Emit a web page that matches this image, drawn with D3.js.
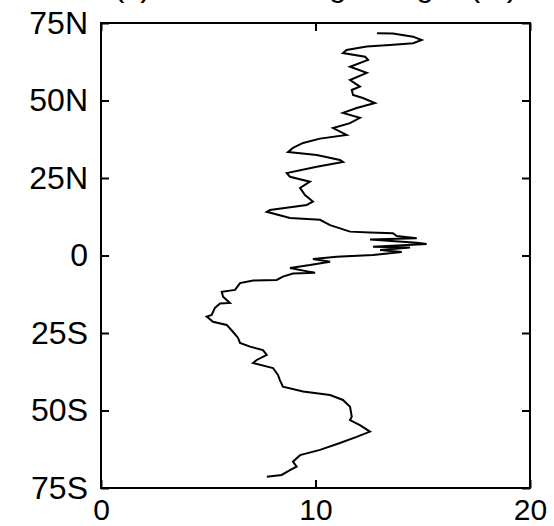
<!DOCTYPE html>
<html>
<head>
<meta charset="utf-8">
<script src="https://d3js.org/d3.v7.min.js"></script>
<style>
  body { margin: 0; background: #fff; }
  svg { display: block; }
  text { font-family: "Liberation Sans", Arial, sans-serif; fill: #000; }
</style>
</head>
<body>
<div id="chart"></div>
<script>
// zonal profile (value, latitude)
const lat = [71.7, 71.6, 70.6, 69.5, 68.5, 67.9, 67.4, 66.3, 65.3, 64.1, 63.1, 60.9, 58.9, 56.6, 54.5, 53.4,
    51.8, 50.8, 49.2, 47.6, 46.0, 44.4, 42.7, 41.1, 38.9, 37.7, 36.3, 34.7, 33.4, 32.4, 30.8, 30.2, 28.6,
    26.6, 25.4, 23.8, 21.8, 19.5, 17.4, 16.3, 14.7, 14.1, 12.1, 11.5, 9.8, 7.7, 7.4, 7.2, 6.3, 5.6, 5.2,
    4.1, 3.7, 2.8, 2.6, 1.8, 1.1, 0.2, -0.4, -1.1, -2.0, -3.1, -4.0, -5.6, -5.8, -6.8, -7.9, -8.1, -8.9,
    -11.1, -11.7, -13.3, -15.3, -15.5, -16.9, -19.2, -19.7, -21.4, -22.4, -24.6, -26.6, -28.2, -29.4,
    -30.5, -32.1, -33.7, -34.7, -36.3, -38.5, -40.2, -42.3, -43.9, -45.0, -46.6, -48.8, -52.0, -53.1,
    -54.7, -56.8, -58.5, -60.5, -62.7, -64.4, -66.5, -68.1, -69.2, -70.8, -71.4];
const val = [12.87, 13.61, 14.55, 14.95, 14.55, 13.47, 12.39, 11.45, 11.28, 12.31, 12.45, 11.61, 12.39, 11.61,
    12.07, 11.69, 11.75, 12.21, 12.77, 11.92, 11.28, 12.07, 11.61, 10.82, 11.45, 10.21, 9.42, 8.95, 8.72,
    10.06, 11.14, 11.28, 10.06, 8.66, 8.81, 9.74, 9.28, 9.51, 9.88, 9.59, 7.88, 7.73, 8.81, 10.21, 10.68,
    11.61, 12.54, 13.61, 13.79, 14.72, 12.54, 14.72, 15.18, 12.68, 14.41, 13.01, 14.02, 12.68, 10.99, 9.88,
    10.68, 9.74, 8.81, 9.98, 8.95, 8.48, 8.19, 7.09, 6.48, 6.25, 5.63, 5.69, 6.01, 5.55, 5.31, 5.16, 4.93,
    5.22, 5.86, 6.15, 6.39, 6.48, 6.95, 7.55, 7.73, 7.26, 7.09, 8.02, 8.25, 8.34, 8.48, 9.42, 10.68, 11.28,
    11.61, 11.69, 11.61, 12.07, 12.54, 11.92, 11.14, 10.21, 9.28, 8.95, 9.12, 8.81, 8.42, 7.73];

const latTicks = [75, 50, 25, 0, -25, -50, -75];
const latLabels = ["75N", "50N", "25N", "0", "25S", "50S", "75S"];
const valTicks = [0, 10, 20];
const title = "(c) Zonal average height (m)";

var width = 554, height = 526;
var margin = {top: 23, right: 24, bottom: 38, left: 101};

var svg = d3.select("#chart").append("svg")
    .attr("width", width)
    .attr("height", height);

var x = d3.scaleLinear().domain([0, 20]).range([margin.left, width - margin.right]);
var y = d3.scaleLinear().domain([-75, 75]).range([height - margin.bottom, margin.top]);

// axes, ticks pointing inward
svg.append("g")
    .attr("transform", "translate(" + margin.left + ",0)")
    .call(d3.axisLeft(y).tickValues(latTicks).tickSize(-8).tickPadding(13)
        .tickFormat((d, i) => latLabels[i]))
    .selectAll(".tick text").attr("font-size", 32);
svg.append("g")
    .attr("transform", "translate(" + (width - margin.right) + ",0)")
    .call(d3.axisRight(y).tickValues(latTicks).tickSize(-8).tickFormat(""));
svg.append("g")
    .attr("transform", "translate(0," + (height - margin.bottom) + ")")
    .call(d3.axisBottom(x).tickValues(valTicks).tickSize(-8).tickPadding(11).tickFormat(d3.format("d")))
    .selectAll(".tick text").attr("font-size", 30);
svg.append("g")
    .attr("transform", "translate(0," + margin.top + ")")
    .call(d3.axisTop(x).tickValues(valTicks).tickSize(-8).tickFormat(""));

svg.selectAll(".domain").remove();
svg.selectAll(".tick line").attr("stroke", "#000").attr("stroke-width", 2);
svg.selectAll(".tick text").attr("font-family", "Liberation Sans, Arial, sans-serif");

svg.append("rect")
    .attr("x", x(0)).attr("y", y(75))
    .attr("width", x(20) - x(0)).attr("height", y(-75) - y(75))
    .attr("fill", "none").attr("stroke", "#000").attr("stroke-width", 2);

var line = d3.line()
    .x((d, i) => x(val[i]))
    .y((d, i) => y(lat[i]));

svg.append("path")
    .datum(lat)
    .attr("d", line)
    .attr("fill", "none")
    .attr("stroke", "#000")
    .attr("stroke-width", 2);

// title sits mostly above the visible area
svg.append("text")
    .attr("x", (x(0) + x(20)) / 2)
    .attr("y", -4)
    .attr("text-anchor", "middle")
    .attr("font-size", 32)
    .text(title);
</script>
</body>
</html>
